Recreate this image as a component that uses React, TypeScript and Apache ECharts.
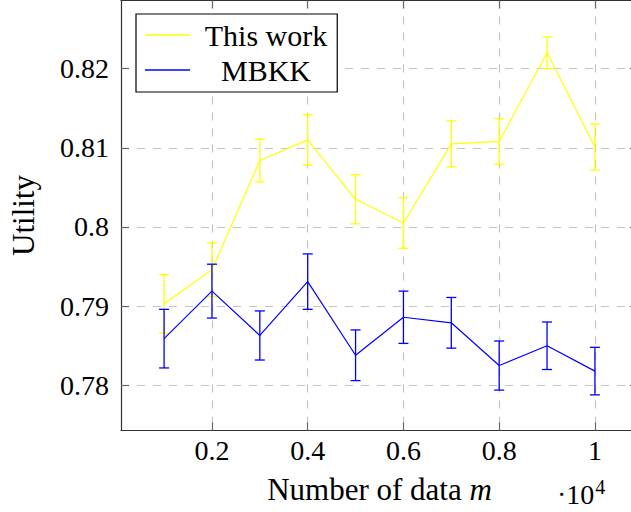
import React, { useEffect, useRef } from "react";
import * as echarts from "echarts";

// Data (x in units of 10^4)
const xValues = [0.1, 0.2, 0.3, 0.4, 0.5, 0.6, 0.7, 0.8, 0.9, 1.0];
const thisWork = [0.7903, 0.7946, 0.8084, 0.811, 0.8035, 0.8005, 0.8105, 0.8108, 0.822, 0.8101];
const thisWorkErr = [0.0037, 0.0034, 0.0027, 0.0032, 0.0031, 0.0032, 0.0029, 0.0029, 0.002, 0.0029];
const mbkk = [0.7859, 0.7919, 0.7863, 0.7931, 0.7838, 0.7886, 0.7879, 0.7825, 0.785, 0.7818];
const mbkkErr = [0.0037, 0.0034, 0.0031, 0.0035, 0.0032, 0.0033, 0.0032, 0.0031, 0.003, 0.003];
const xTicks = [0.2, 0.4, 0.6, 0.8, 1];
const yTicks = [0.78, 0.79, 0.8, 0.81, 0.82];
const seriesNames = ["This work", "MBKK"];
const seriesColors = ["#ffff00", "#0000ff"];

const FONT = "'Liberation Serif', serif";
const FS = 28;
const FS_NAME = 31;
const FS_LEGEND = 30;

export default function App() {
  const ref = useRef<HTMLDivElement>(null);
  useEffect(() => {
    document.body.style.margin = "0";
    document.body.style.overflow = "hidden";
    const chart = echarts.init(ref.current!, null, { renderer: "svg" });

    const errRender = (color: string) => (params: any, api: any) => {
      const x = api.value(0);
      const y = api.value(1);
      const e = api.value(2);
      const top = api.coord([x, y + e]);
      const bot = api.coord([x, y - e]);
      const h = 5;
      const style = { stroke: color, lineWidth: 1.3 };
      return {
        type: "group",
        children: [
          { type: "line", shape: { x1: top[0], y1: top[1], x2: bot[0], y2: bot[1] }, style },
          { type: "line", shape: { x1: top[0] - h, y1: top[1], x2: top[0] + h, y2: top[1] }, style },
          { type: "line", shape: { x1: bot[0] - h, y1: bot[1], x2: bot[0] + h, y2: bot[1] }, style },
        ],
      };
    };

    const values = [thisWork, mbkk];
    const errs = [thisWorkErr, mbkkErr];
    const series: any[] = [];
    values.forEach((vals, i) => {
      series.push({
        type: "line",
        name: seriesNames[i],
        data: xValues.map((x, j) => [x, vals[j]]),
        symbol: "none",
        lineStyle: { color: seriesColors[i], width: 1.2 },
        itemStyle: { color: seriesColors[i] },
        z: 3 + i * 2,
      });
      series.push({
        type: "custom",
        name: seriesNames[i] + " err",
        data: xValues.map((x, j) => [x, vals[j], errs[i][j]]),
        renderItem: errRender(seriesColors[i]),
        z: 4 + i * 2,
        silent: true,
      });
    });

    const axisLineStyle = { color: "#333", width: 1.2 };
    const tickStyle = { color: "#666", width: 1.2 };
    const gridLine = { color: "#c4c4c4", width: 1.2, type: [8, 8] as any };

    chart.setOption({
      animation: false,
      backgroundColor: "#fff",
      textStyle: { fontFamily: FONT },
      grid: { left: 120, right: 2, top: 0.5, bottom: 81.5, containLabel: false },
      legend: {
        data: seriesNames.map((n) => ({ name: n, icon: "rect" })),
        orient: "vertical",
        left: 136,
        top: 14,
        padding: [6, 10, 7, 9],
        itemWidth: 45,
        itemHeight: 1.3,
        itemGap: 5,
        backgroundColor: "#fff",
        borderColor: "#000",
        borderWidth: 1.2,
        borderRadius: 0,
        formatter: (name: string) => `{c|${name}}`,
        textStyle: {
          fontFamily: FONT,
          rich: {
            c: { width: 142, align: "center", fontSize: FS_LEGEND, fontFamily: FONT, color: "#000" },
          },
        },
      },
      xAxis: [
        {
          type: "value",
          min: 0.01,
          max: 1.09,
          position: "bottom",
          axisLine: { show: true, lineStyle: axisLineStyle },
          axisTick: { show: true, inside: true, length: 8, customValues: xTicks, lineStyle: tickStyle },
          axisLabel: {
            customValues: xTicks,
            fontSize: FS,
            fontFamily: FONT,
            color: "#000",
            margin: 6,
            formatter: (v: number) => String(Number(v.toFixed(2))),
          },
          splitLine: { show: true, lineStyle: gridLine },
          name: "Number of data {i|m}",
          nameLocation: "middle",
          nameGap: 43,
          nameTextStyle: {
            fontSize: FS_NAME,
            fontFamily: FONT,
            color: "#000",
            rich: { i: { fontSize: FS_NAME, fontFamily: FONT, fontStyle: "italic", color: "#000" } },
          },
        },
        {
          type: "value",
          min: 0.01,
          max: 1.09,
          position: "top",
          axisLine: { show: true, lineStyle: axisLineStyle },
          axisTick: { show: true, inside: true, length: 8, customValues: xTicks, lineStyle: tickStyle },
          axisLabel: { show: false },
          splitLine: { show: false },
        },
      ],
      yAxis: [
        {
          type: "value",
          min: 0.7743,
          max: 0.8286,
          position: "left",
          axisLine: { show: true, lineStyle: axisLineStyle },
          axisTick: { show: true, inside: true, length: 8, customValues: yTicks, lineStyle: tickStyle },
          axisLabel: {
            customValues: yTicks,
            fontSize: FS,
            fontFamily: FONT,
            color: "#000",
            margin: 12,
            formatter: (v: number) => String(Number(v.toFixed(3))),
          },
          splitLine: { show: true, lineStyle: gridLine },
          name: "Utility",
          nameLocation: "middle",
          nameGap: 82,
          nameTextStyle: { fontSize: FS_NAME, fontFamily: FONT, color: "#000" },
        },
        {
          type: "value",
          min: 0.7743,
          max: 0.8286,
          position: "right",
          axisLine: { show: true, lineStyle: axisLineStyle },
          axisTick: { show: true, inside: true, length: 8, customValues: yTicks, lineStyle: tickStyle },
          axisLabel: { show: false },
          splitLine: { show: false },
        },
      ],
      graphic: [
        {
          type: "text",
          left: 557,
          top: 477,
          style: {
            text: "·10{s|4}",
            fontSize: FS,
            fontFamily: FONT,
            fill: "#000",
            rich: { s: { fontSize: 20, fontFamily: FONT, verticalAlign: "top", padding: [0, 0, 14, 1] } },
          },
        },
      ],
      series,
    });
    return () => chart.dispose();
  }, []);
  return <div ref={ref} style={{ position: "fixed", left: 0, top: 0, width: 640, height: 512 }} />;
}
